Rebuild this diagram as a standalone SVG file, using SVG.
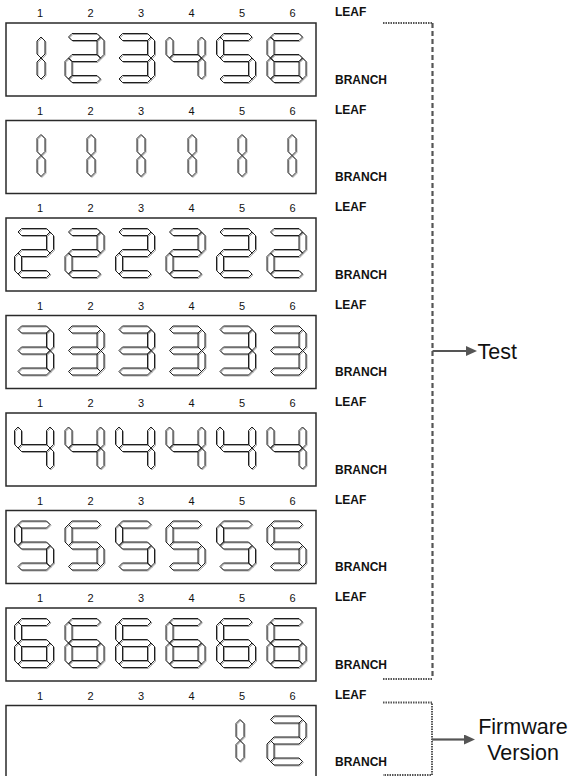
<svg xmlns="http://www.w3.org/2000/svg" width="572" height="776" viewBox="0 0 572 776">
<style>
.bg{fill:#fff}
.box{fill:#fff;stroke:#2a2a2a;stroke-width:1.5}
.num{font-family:"Liberation Sans",Arial,sans-serif;font-size:11px;fill:#111;text-anchor:middle}
.tag{font-family:"Liberation Sans",Arial,sans-serif;font-size:12px;font-weight:bold;fill:#111}
.big{font-family:"Liberation Sans",Arial,sans-serif;font-size:21.5px;fill:#111}
.sh{fill:none;stroke:#9a9a9a;stroke-width:1}
.fg{fill:none;stroke:#1e1e1e;stroke-width:1}
.dot{fill:none;stroke:#555;stroke-width:2;stroke-dasharray:1.5 1}
.dash{fill:none;stroke:#555;stroke-width:2.2;stroke-dasharray:5 3}
.arr{fill:none;stroke:#555;stroke-width:2.2}
</style>
<defs>
<marker id="ah" viewBox="0 0 11 10" refX="0" refY="5" markerWidth="11" markerHeight="10" markerUnits="userSpaceOnUse" orient="auto">
<path d="M0,0 L11,5 L0,10 z" fill="#555"/>
</marker>
<polygon id="sa" points="0,0 3.5,-3.5 28.5,-3.5 32,0 28.5,3.5 3.5,3.5"/>
<polygon id="sg" points="0,21 3.5,17.5 28.5,17.5 32,21 28.5,24.5 3.5,24.5"/>
<polygon id="sd" points="0,42 3.5,38.5 28.5,38.5 32,42 28.5,45.5 3.5,45.5"/>
<polygon id="sf" points="0,0 3.5,3.5 3.5,17.5 0,21 -3.5,17.5 -3.5,3.5"/>
<polygon id="se" points="0,21 3.5,24.5 3.5,38.5 0,42 -3.5,38.5 -3.5,24.5"/>
<polygon id="sb" points="32,0 35.5,3.5 35.5,17.5 32,21 28.5,17.5 28.5,3.5"/>
<polygon id="sc" points="32,21 35.5,24.5 35.5,38.5 32,42 28.5,38.5 28.5,24.5"/>
<polygon id="s1u" points="0,0 4,4 4,17 0,21 -4,17 -4,4"/>
<polygon id="s1l" points="0,21 4,25 4,38 0,42 -4,38 -4,25"/>
<g id="n1"><use href="#s1u"/><use href="#s1l"/></g>
<g id="n2"><use href="#sa"/><use href="#sb"/><use href="#sg"/><use href="#se"/><use href="#sd"/></g>
<g id="n3"><use href="#sa"/><use href="#sb"/><use href="#sg"/><use href="#sc"/><use href="#sd"/></g>
<g id="n4"><use href="#sf"/><use href="#sg"/><use href="#sb"/><use href="#sc"/></g>
<g id="n5"><use href="#sa"/><use href="#sf"/><use href="#sg"/><use href="#sc"/><use href="#sd"/></g>
<g id="n6"><use href="#sa"/><use href="#sf"/><use href="#sg"/><use href="#se"/><use href="#sc"/><use href="#sd"/></g>
<g id="d1"><use href="#n1" class="sh" transform="translate(0.9,0.9)"/><use href="#n1" class="fg"/></g>
<g id="d2"><use href="#n2" class="sh" transform="translate(0.9,0.9)"/><use href="#n2" class="fg"/></g>
<g id="d3"><use href="#n3" class="sh" transform="translate(0.9,0.9)"/><use href="#n3" class="fg"/></g>
<g id="d4"><use href="#n4" class="sh" transform="translate(0.9,0.9)"/><use href="#n4" class="fg"/></g>
<g id="d5"><use href="#n5" class="sh" transform="translate(0.9,0.9)"/><use href="#n5" class="fg"/></g>
<g id="d6"><use href="#n6" class="sh" transform="translate(0.9,0.9)"/><use href="#n6" class="fg"/></g>
<g id="hdr">
<text class="num" x="40" y="-6">1</text>
<text class="num" x="90.5" y="-6">2</text>
<text class="num" x="141" y="-6">3</text>
<text class="num" x="191.5" y="-6">4</text>
<text class="num" x="242" y="-6">5</text>
<text class="num" x="292.5" y="-6">6</text>
<text class="tag" x="335" y="-7">LEAF</text>
<text class="tag" x="335" y="60.5">BRANCH</text>
<rect class="box" x="6" y="0" width="310" height="73"/>
</g>
</defs>
<rect class="bg" x="0" y="0" width="572" height="776"/>

<g id="display-1" transform="translate(0,23)">
<use href="#hdr"/>
<use href="#d1" x="41" y="14"/>
<use href="#d2" x="68.5" y="14"/>
<use href="#d3" x="119" y="14"/>
<use href="#d4" x="169.5" y="14"/>
<use href="#d5" x="220" y="14"/>
<use href="#d6" x="270.5" y="14"/>
</g>
<g id="display-2" transform="translate(0,120.5)">
<use href="#hdr"/>
<use href="#d1" x="41" y="14"/>
<use href="#d1" x="91" y="14"/>
<use href="#d1" x="141" y="14"/>
<use href="#d1" x="192" y="14"/>
<use href="#d1" x="242" y="14"/>
<use href="#d1" x="292" y="14"/>
</g>
<g id="display-3" transform="translate(0,218)">
<use href="#hdr"/>
<use href="#d2" x="18" y="14"/>
<use href="#d2" x="68.5" y="14"/>
<use href="#d2" x="119" y="14"/>
<use href="#d2" x="169.5" y="14"/>
<use href="#d2" x="220" y="14"/>
<use href="#d2" x="270.5" y="14"/>
</g>
<g id="display-4" transform="translate(0,315.5)">
<use href="#hdr"/>
<use href="#d3" x="18" y="14"/>
<use href="#d3" x="68.5" y="14"/>
<use href="#d3" x="119" y="14"/>
<use href="#d3" x="169.5" y="14"/>
<use href="#d3" x="220" y="14"/>
<use href="#d3" x="270.5" y="14"/>
</g>
<g id="display-5" transform="translate(0,413)">
<use href="#hdr"/>
<use href="#d4" x="18" y="14"/>
<use href="#d4" x="68.5" y="14"/>
<use href="#d4" x="119" y="14"/>
<use href="#d4" x="169.5" y="14"/>
<use href="#d4" x="220" y="14"/>
<use href="#d4" x="270.5" y="14"/>
</g>
<g id="display-6" transform="translate(0,510.5)">
<use href="#hdr"/>
<use href="#d5" x="18" y="14"/>
<use href="#d5" x="68.5" y="14"/>
<use href="#d5" x="119" y="14"/>
<use href="#d5" x="169.5" y="14"/>
<use href="#d5" x="220" y="14"/>
<use href="#d5" x="270.5" y="14"/>
</g>
<g id="display-7" transform="translate(0,608)">
<use href="#hdr"/>
<use href="#d6" x="18" y="14"/>
<use href="#d6" x="68.5" y="14"/>
<use href="#d6" x="119" y="14"/>
<use href="#d6" x="169.5" y="14"/>
<use href="#d6" x="220" y="14"/>
<use href="#d6" x="270.5" y="14"/>
</g>
<g id="display-8" transform="translate(0,705.5)">
<use href="#hdr"/>
<use href="#d1" x="240" y="14"/>
<use href="#d2" x="270.5" y="14"/>
</g>

<g id="connectors">
<path class="dot" d="M383,23 H432.5"/>
<path class="dash" d="M432.5,23 V679"/>
<path class="dot" d="M383,679 H432.5"/>
<path class="arr" d="M432.5,351 H466" marker-end="url(#ah)"/>
<path class="dot" d="M383,702.5 H432 V775 H383"/>
<path class="arr" d="M432,739.5 H464" marker-end="url(#ah)"/>
</g>
<g id="label-test">
<text class="big" x="477.5" y="358.5">Test</text>
</g>
<g id="label-firmware">
<text class="big" x="523" y="734" text-anchor="middle">Firmware</text>
<text class="big" x="523" y="760" text-anchor="middle">Version</text>
</g>
</svg>
